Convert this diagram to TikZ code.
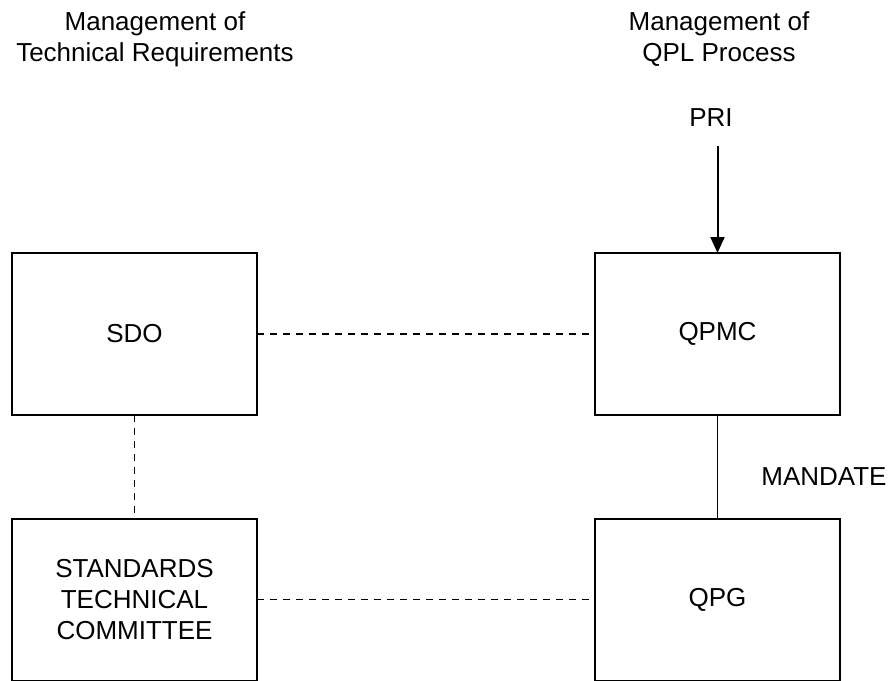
\documentclass[tikz,border=0pt]{standalone}
\usepackage{fontspec}
\setmainfont{Liberation Sans}
\usetikzlibrary{arrows.meta, positioning}

\begin{document}
\begin{tikzpicture}[x=0.5pt, y=-0.5pt,
                block/.style={draw, line width=1pt, minimum width=122.5pt, minimum height=81pt, align=center, inner sep=0pt, outer sep=0pt, font=\fontsize{13}{15.5}\selectfont},
                label/.style={align=center, inner sep=0pt, font=\fontsize{13}{15.5}\selectfont},
                link/.style={line width=0.7pt, dash pattern=on 3.5pt off 3pt},
                arrow/.style={-{Triangle[width=7pt, length=8pt]}, line width=1pt}
            ]
                \useasboundingbox (0,0) rectangle (891,681);

                % Headings
                \node[label] (techhead) at (155,39) {Management of\\Technical Requirements};
                \node[label] (qplhead) at (719,39) {Management of\\QPL Process};

                % Boxes
                \node[block] (sdo) at (134.5,334) {SDO};
                \node[block] (qpmc) at (717.5,334) {QPMC};
                \node[block] (stc) at (134.5,599.5) {STANDARDS\\TECHNICAL\\COMMITTEE};
                \node[block] (qpg) at (717.5,599.5) {QPG};

                % Input
                \node[label] (pri) at (711,118) {PRI};
                \coordinate (pritail) at (717.5,146);
                \draw[arrow] (pritail) -- (qpmc.north);

                % Links
                \draw[link] (sdo) -- (qpmc);
                \draw[link] (sdo) -- (stc);
                \draw[link] (stc) -- (qpg);
                \draw[line width=0.6pt] (qpmc) -- (qpg);
                \node[label, anchor=west] (mandate) at (761,477) {MANDATE};
            \end{tikzpicture}
\end{document}
